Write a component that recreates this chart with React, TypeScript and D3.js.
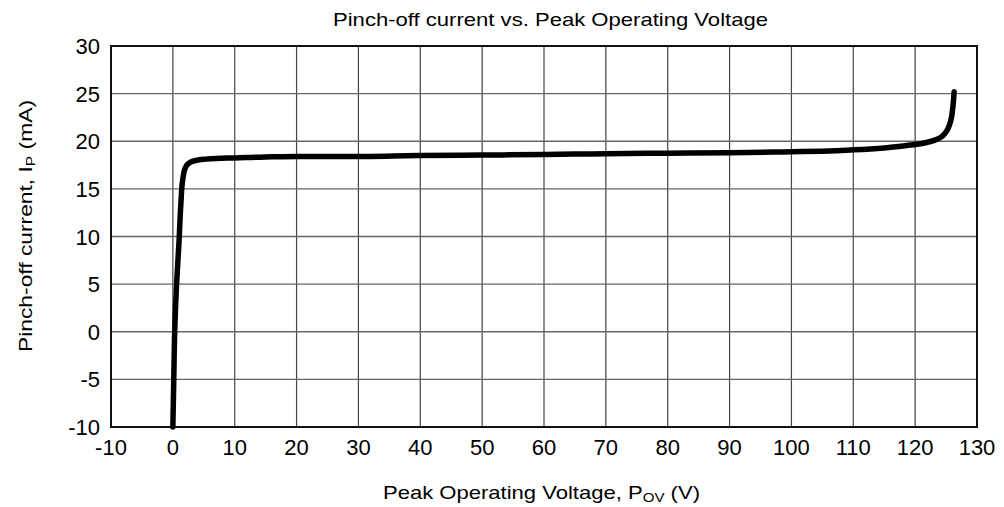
import * as React from 'react';
import * as d3 from 'd3';

// curve (V, mA)
const voltage = [0, 0.15, 0.3, 0.6, 1.0, 1.3, 1.6, 2.0, 2.6, 3.5, 5, 7, 10, 15, 20, 30, 40, 50, 60, 70, 80, 90, 100, 105, 110, 115, 118, 120, 122, 123.5, 124.5, 125.2, 125.6, 125.9, 126.1, 126.3];
const current = [-10, -5, 0, 5, 9.5, 13.5, 16.0, 17.2, 17.7, 17.95, 18.1, 18.2, 18.25, 18.35, 18.4, 18.4, 18.5, 18.55, 18.6, 18.7, 18.75, 18.8, 18.9, 18.95, 19.1, 19.3, 19.5, 19.65, 19.9, 20.2, 20.6, 21.2, 21.8, 22.6, 23.6, 25.2];

const xTicks = [-10, 0, 10, 20, 30, 40, 50, 60, 70, 80, 90, 100, 110, 120, 130];
const yTicks = [-10, -5, 0, 5, 10, 15, 20, 25, 30];

const FONT = 'Liberation Sans, Arial, Helvetica, sans-serif';

export default function App() {
  const width = 1004;
  const height = 507;
  const left = 111, right = 977, top = 46, bottom = 427;

  const x = d3.scaleLinear().domain([-10, 130]).range([left, right]);
  const y = d3.scaleLinear().domain([-10, 30]).range([bottom, top]);

  const pts: [number, number][] = voltage.map((v, i) => [v, current[i]]);
  const line = d3.line<[number, number]>()
    .x(d => x(d[0]))
    .y(d => y(d[1]))
    .curve(d3.curveMonotoneY);

  return (
    <svg width={width} height={height} style={{ position: 'absolute', left: 0, top: 0 }}>
      <rect width={width} height={height} fill="#fff" />
      <text x={333} y={26} fontFamily={FONT} fontSize={19} fill="#000" textLength={435} lengthAdjust="spacingAndGlyphs">
        Pinch-off current vs. Peak Operating Voltage
      </text>

      {xTicks.slice(1, -1).map(t => (
        <line key={'gx' + t} x1={x(t)} x2={x(t)} y1={top} y2={bottom} stroke="#444" strokeWidth={1.2} />
      ))}
      {yTicks.slice(1, -1).map(t => (
        <line key={'gy' + t} x1={left} x2={right} y1={y(t)} y2={y(t)} stroke="#666" strokeWidth={1.4} />
      ))}
      <rect x={left} y={top} width={right - left} height={bottom - top} fill="none" stroke="#111" strokeWidth={2} />

      {xTicks.map(t => (
        <text key={'tx' + t} x={x(t)} y={bottom + 28} textAnchor="middle" fontFamily={FONT} fontSize={22} fill="#000">
          {t}
        </text>
      ))}
      {yTicks.map(t => (
        <text key={'ty' + t} x={left - 11} y={y(t) + 8} textAnchor="end" fontFamily={FONT} fontSize={22} fill="#000">
          {t}
        </text>
      ))}

      <path d={line(pts) || ''} fill="none" stroke="#000" strokeWidth={5.5} strokeLinecap="round" strokeLinejoin="round" />

      <text x={383} y={499} fontFamily={FONT} fontSize={19} fill="#000" textLength={317} lengthAdjust="spacingAndGlyphs">
        Peak Operating Voltage, P<tspan fontSize={13} dy={3}>OV</tspan><tspan dy={-3}> (V)</tspan>
      </text>
      <text transform={`translate(32, 352) rotate(-90)`} fontFamily={FONT} fontSize={19} fill="#000" textLength={252} lengthAdjust="spacingAndGlyphs">
        Pinch-off current, I<tspan fontSize={13} dy={3}>P</tspan><tspan dy={-3}> (mA)</tspan>
      </text>
    </svg>
  );
}
